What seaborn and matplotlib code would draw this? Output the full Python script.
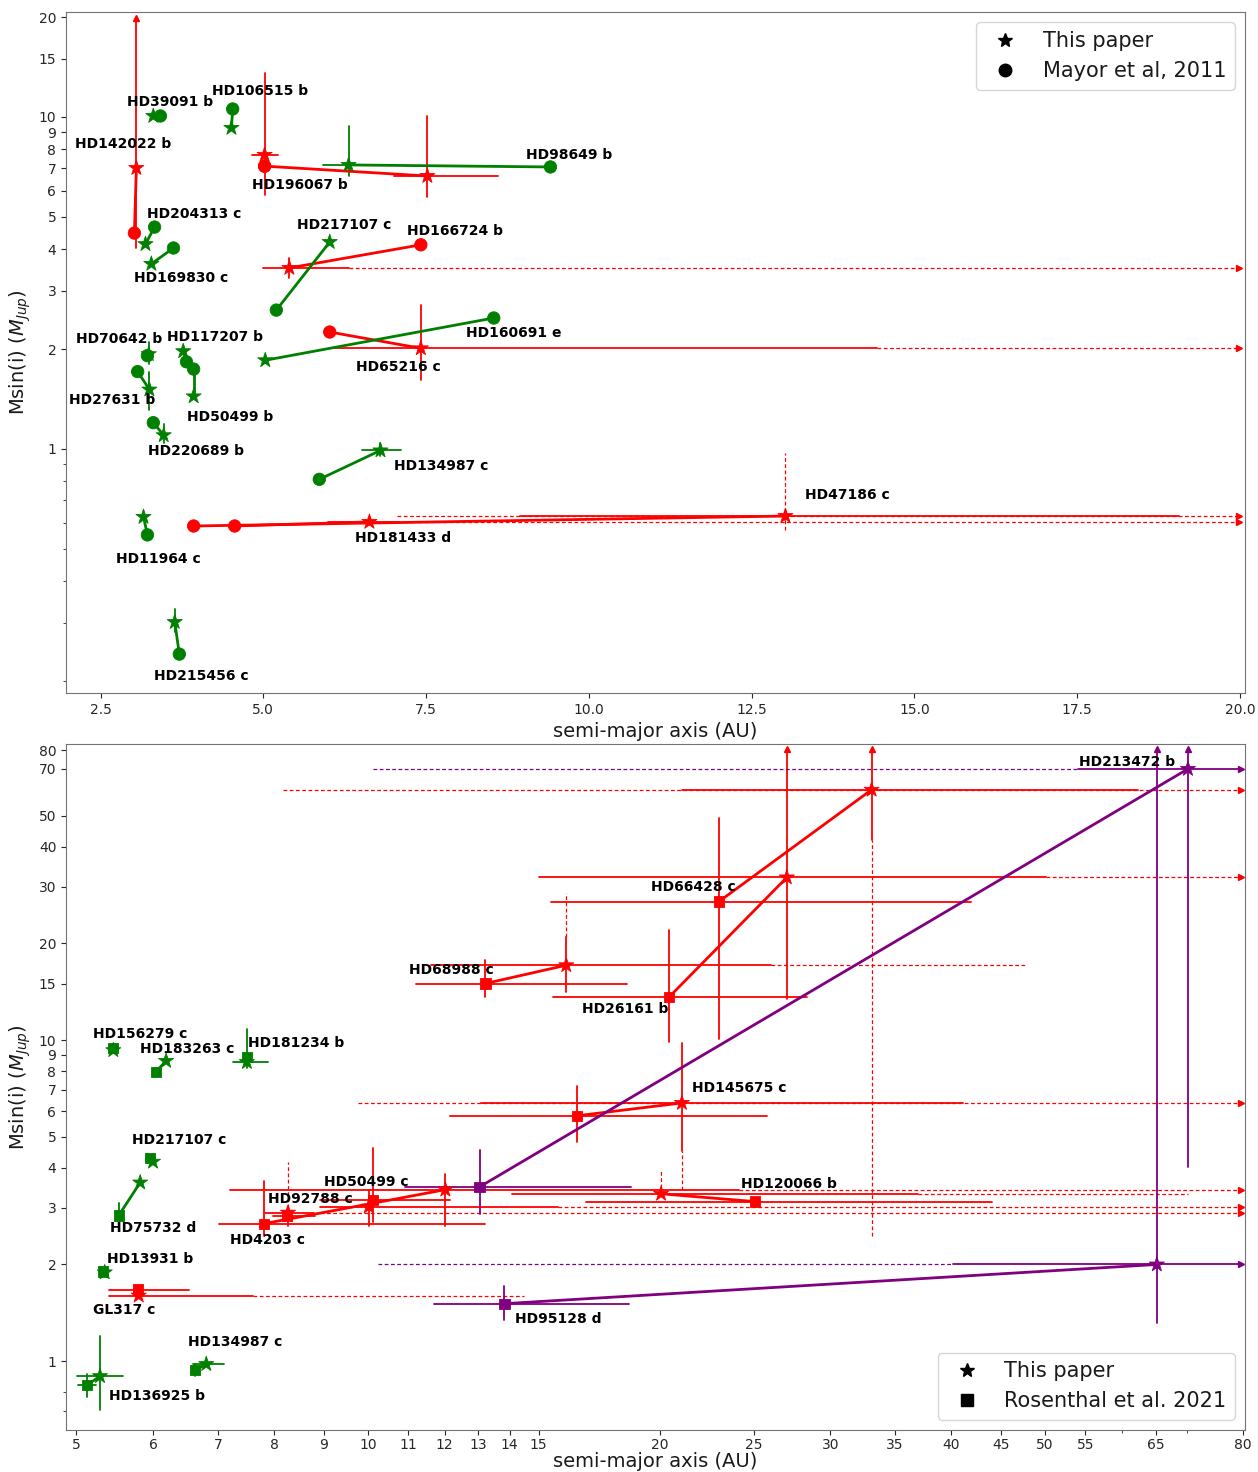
import numpy as np
import pandas as pd
import matplotlib
matplotlib.use("Agg")
import matplotlib.pyplot as plt
from matplotlib.lines import Line2D
from matplotlib.ticker import FixedLocator, FixedFormatter, NullFormatter
import seaborn as sns

nan, inf = np.nan, np.inf

# ---- Top panel: this paper vs Mayor et al, 2011 ----
top_names = ["HD142022 b", "HD39091 b", "HD106515 b", "HD196067 b", "", "HD98649 b",
             "HD204313 c", "HD169830 c", "HD217107 c", "HD166724 b", "HD160691 e",
             "HD65216 c", "HD70642 b", "HD27631 b", "HD117207 b", "HD50499 b",
             "HD220689 b", "HD134987 c", "HD47186 c", "HD181433 d", "HD11964 c", "HD215456 c"]
top_group = ["r", "g", "g", "r", "r", "g", "g", "g", "g", "r", "g",
             "r", "g", "g", "g", "g", "g", "g", "r", "r", "g", "g"]
top_lit_a = [3.02, 3.42, 4.53, 5.02, 5.02, 9.41, 3.33, 3.62, 5.20, 7.42, 8.54,
             6.02, 3.22, 3.07, 3.82, 3.93, 3.31, 5.86, 3.93, 4.56, 3.22, 3.71]
top_lit_m = [4.47, 10.07, 10.57, 7.11, 7.11, 7.07, 4.66, 4.03, 2.62, 4.12, 2.48,
             2.25, 1.91, 1.71, 1.83, 1.74, 1.20, 0.81, 0.586, 0.586, 0.551, 0.241]
top_a = [3.05, 3.31, 4.51, 5.02, 7.52, 6.31, 3.19, 3.28, 6.02, 5.40, 5.03,
         7.42, 3.24, 3.25, 3.77, 3.93, 3.47, 6.80, 13.02, 6.63, 3.16, 3.64]
top_m = [7.02, 10.07, 9.27, 7.69, 6.64, 7.17, 4.14, 3.61, 4.20, 3.51, 1.85,
         2.01, 1.93, 1.51, 1.97, 1.44, 1.10, 0.99, 0.628, 0.603, 0.624, 0.301]
# error ranges of this paper's values (inf = open upper limit)
top_a_lo = [nan, nan, nan, 4.82, 7.00, 5.91, nan, nan, nan, 5.00, nan,
            6.04, nan, nan, nan, nan, nan, 6.52, 8.94, 6.00, nan, nan]
top_a_hi = [nan, nan, nan, 5.22, 8.60, 6.70, nan, nan, nan, 6.31, nan,
            14.43, nan, nan, nan, nan, nan, 7.11, 19.06, 7.08, nan, nan]
top_a_dlo = [nan, nan, nan, nan, nan, nan, nan, nan, nan, 6.31, nan,
             14.43, nan, nan, nan, nan, nan, nan, 7.06, 7.08, nan, nan]
top_a_dhi = [nan, nan, nan, nan, nan, nan, nan, nan, nan, inf, nan,
             inf, nan, nan, nan, nan, nan, nan, inf, inf, nan, nan]
top_m_lo = [4.03, nan, nan, 5.82, 5.74, 6.64, nan, nan, nan, 3.27, nan,
            1.61, 1.80, 1.31, nan, nan, 1.04, 0.95, 0.61, 0.59, nan, 0.28]
top_m_hi = [inf, nan, nan, 13.6, 10.1, 9.37, nan, nan, nan, 3.76, nan,
            2.71, 2.10, 1.70, nan, nan, 1.19, 1.04, 0.645, 0.615, nan, 0.33]
top_m_dlo = [nan] * 18 + [0.57, nan, nan, nan]
top_m_dhi = [nan] * 18 + [0.97, nan, nan, nan]
top_label_off = [(-61, 24), (-26, 14), (-19, 37), (-13, -30), (0, 0), (177, 10),
                 (2, 30), (-17, -14), (-33, 17), (118, 37), (201, 27),
                 (-65, -19), (-73, 15), (-80, -10), (-16, 14), (-7, -21),
                 (-16, -16), (14, -16), (20, 21), (-14, -16), (-28, -42), (-21, -54)]
top_xticks = [2.5, 5.0, 7.5, 10.0, 12.5, 15.0, 17.5, 20.0]
top_yticks = [1, 2, 3, 4, 5, 6, 7, 8, 9, 10, 15, 20]
top_yminor = [0.2, 0.3, 0.4, 0.5, 0.6, 0.7, 0.8, 0.9]

# ---- Bottom panel: this paper vs Rosenthal et al. 2021 ----
bot_names = ["HD156279 c", "HD183263 c", "HD181234 b", "HD217107 c", "HD75732 d",
             "HD13931 b", "HD134987 c", "HD136925 b", "GL317 c", "HD4203 c",
             "HD92788 c", "HD50499 c", "HD120066 b", "HD145675 c", "HD68988 c",
             "HD26161 b", "HD66428 c", "HD213472 b", "HD95128 d"]
bot_group = ["g"] * 8 + ["r"] * 9 + ["p"] * 2
bot_lit_a = [5.46, 6.04, 7.50, 5.96, 5.53, 5.33, 6.63, 5.13, 5.79, 7.81,
             8.25, 10.12, 25.08, 16.44, 13.22, 20.45, 23.03, 13.04, 13.83]
bot_lit_m = [9.44, 7.96, 8.85, 4.30, 2.84, 1.90, 0.938, 0.842, 1.67, 2.68,
             2.84, 3.18, 3.14, 5.81, 15.0, 13.6, 27.0, 3.49, 1.51]
bot_lit_a_lo = [nan] * 7 + [5.02, 5.41, 7.02, 7.98, 8.92, 16.80, 12.14, 11.22, 15.53, 15.46, 10.91, 11.71]
bot_lit_a_hi = [nan] * 7 + [5.24, 6.54, 13.22, 8.81, 12.14, 44.10, 25.80, 18.52, 28.37, 41.95, 18.69, 18.60]
bot_lit_m_lo = [nan, nan, nan, nan, 2.74, nan, 0.90, 0.773, nan, 2.46,
                nan, 2.72, nan, 4.82, 13.6, 9.86, 10.07, 2.88, 1.34]
bot_lit_m_hi = [nan, nan, nan, nan, 3.10, nan, 0.98, 0.911, nan, 3.65,
                nan, 4.62, nan, 7.20, 17.8, 22.0, 49.3, 4.55, 1.72]
bot_a = [5.46, 6.19, 7.50, 6.00, 5.82, 5.35, 6.81, 5.29, 5.80, 12.02,
         8.27, 10.02, 20.07, 21.09, 16.02, 27.06, 33.10, 70.2, 65.2]
bot_m = [9.30, 8.61, 8.54, 4.18, 3.60, 1.89, 0.979, 0.898, 1.60, 3.42,
         2.90, 3.03, 3.32, 6.37, 17.1, 32.1, 60.2, 69.9, 2.00]
bot_a_lo = [nan, nan, 7.25, nan, nan, nan, 6.60, 5.01, 5.41, 7.21,
            7.83, 8.92, 14.09, 13.07, 11.63, 15.03, 21.09, 54.0, 40.2]
bot_a_hi = [nan, nan, 7.88, nan, nan, nan, 7.10, 5.59, 7.61, 24.15,
            8.79, 15.71, 36.99, 41.16, 26.05, 50.1, 62.3, inf, inf]
bot_a_dlo = [nan] * 8 + [7.61, 24.15, 8.79, 15.71, 36.99, 9.76, 26.05, 50.1, 8.17, 10.12, 10.23]
bot_a_dhi = [nan] * 8 + [14.5, inf, inf, inf, 70.2, inf, 47.8, inf, inf, 54.0, 40.2]
bot_m_lo = [nan, nan, 8.2, nan, nan, nan, nan, 0.705, nan, 2.63,
            2.63, 2.63, nan, 4.52, 14.1, 13.4, 42.1, 4.03, 1.31]
bot_m_hi = [nan, nan, 10.8, nan, nan, nan, nan, 1.20, nan, 3.84,
            2.99, 3.40, nan, 9.79, 21.0, inf, inf, inf, inf]
bot_m_dlo = [nan] * 10 + [2.99, nan, 3.32, 3.42, 21.0, nan, 2.46, nan, nan]
bot_m_dhi = [nan] * 10 + [4.18, nan, 3.92, 4.52, 28.8, nan, 42.1, nan, nan]
bot_label_off = [(-20, 16), (-26, 12), (1, 19), (-21, 22), (-30, -45), (2, 13),
                 (-18, 22), (9, -20), (-46, -14), (-215, -50), (-20, 14), (-45, 25),
                 (80, 10), (10, 15), (-157, -5), (-205, -132), (-221, -97),
                 (-109, 7), (-642, -55)]
bot_xticks = [5, 6, 7, 8, 9, 10, 11, 12, 13, 14, 15, 20, 25, 30, 35, 40, 45, 50, 55, 65, 80]
bot_xminor = [60, 70]
bot_yticks = [1, 2, 3, 4, 5, 6, 7, 8, 9, 10, 15, 20, 30, 40, 50, 70, 80]
bot_yminor = [0.7, 0.8]

palette = {"g": "green", "r": "red", "p": "purple"}

sns.set_style("ticks", {"axes.edgecolor": "0.45", "xtick.color": "0.15",
                        "ytick.color": "0.15", "text.color": "0.1",
                        "axes.labelcolor": "0.1"})
plt.rcParams["font.family"] = ["DejaVu Sans"]


def seg(ax, pos, lo, hi, color, horizontal, dashed, edge):
    if np.isnan(lo) or np.isnan(hi):
        return
    arrow = np.isinf(hi)
    end = edge if arrow else hi
    kw = dict(color=color, lw=0.9 if dashed else 1.3,
              ls=(0, (3, 2)) if dashed else "-", zorder=1)
    if horizontal:
        ax.plot([lo, end], [pos, pos], **kw)
        if arrow:
            ax.plot([end], [pos], marker=">", ms=4.5, color=color, ls="none", zorder=1)
    else:
        ax.plot([pos, pos], [lo, end], **kw)
        if arrow:
            ax.plot([pos], [end], marker="^", ms=4.5, color=color, ls="none", zorder=1)


def draw_panel(ax, d, lit_marker, lit_size, edges, offsets):
    n = len(d["names"])
    xe, ye = edges
    # error bars (this paper), dashed extensions first
    for i in range(n):
        c = palette[d["group"][i]]
        seg(ax, d["m"][i], d["a_dlo"][i], d["a_dhi"][i], c, True, True, xe)
        seg(ax, d["a"][i], d["m_dlo"][i], d["m_dhi"][i], c, False, True, ye)
        seg(ax, d["m"][i], d["a_lo"][i], d["a_hi"][i], c, True, False, xe)
        seg(ax, d["a"][i], d["m_lo"][i], d["m_hi"][i], c, False, False, ye)
        if "lit_a_lo" in d:
            seg(ax, d["lit_m"][i], d["lit_a_lo"][i], d["lit_a_hi"][i], c, True, False, xe)
            seg(ax, d["lit_a"][i], d["lit_m_lo"][i], d["lit_m_hi"][i], c, False, False, ye)

    lit = pd.DataFrame({"pair": range(n), "a": d["lit_a"], "m": d["lit_m"],
                        "group": d["group"], "source": "lit"})
    ours = pd.DataFrame({"pair": range(n), "a": d["a"], "m": d["m"],
                         "group": d["group"], "source": "ours"})
    pts = pd.concat([lit, ours], ignore_index=True)

    sns.lineplot(data=pts, x="a", y="m", units="pair", estimator=None, sort=False,
                 hue="group", palette=palette, lw=2, legend=False, ax=ax, zorder=2)
    sns.scatterplot(data=pts, x="a", y="m", hue="group", palette=palette,
                    style="source", markers={"lit": lit_marker, "ours": "*"},
                    size="source", sizes={"lit": lit_size, "ours": 130},
                    edgecolor="face", linewidth=0.6, legend=False, ax=ax, zorder=3)

    for i in range(n):
        if d["names"][i]:
            ax.annotate(d["names"][i], (d["a"][i], d["m"][i]), xytext=offsets[i],
                        textcoords="offset pixels", fontsize=10, fontweight="bold",
                        color="black", ha="left", va="center", zorder=4)


fig = plt.figure(figsize=(12.58, 14.72), dpi=100)
ax1 = fig.add_axes([0.0525, 0.5292, 0.9372, 0.4626])
ax2 = fig.add_axes([0.0525, 0.0285, 0.9372, 0.4661])

# top panel
ax1.set_yscale("log")
ax1.set_xlim(1.97, 20.08)
ax1.set_ylim(0.184, 20.7)
top = dict(names=top_names, group=top_group, lit_a=top_lit_a, lit_m=top_lit_m,
           a=top_a, m=top_m, a_lo=top_a_lo, a_hi=top_a_hi, a_dlo=top_a_dlo,
           a_dhi=top_a_dhi, m_lo=top_m_lo, m_hi=top_m_hi, m_dlo=top_m_dlo, m_dhi=top_m_dhi)
draw_panel(ax1, top, "o", 80, (19.98, 19.9), top_label_off)
ax1.set_xlim(1.97, 20.08)
ax1.set_ylim(0.184, 20.7)
ax1.set_xticks(top_xticks)
ax1.set_xticklabels([f"{t:.1f}" for t in top_xticks])
ax1.yaxis.set_major_locator(FixedLocator(top_yticks))
ax1.yaxis.set_major_formatter(FixedFormatter([str(t) for t in top_yticks]))
ax1.yaxis.set_minor_locator(FixedLocator(top_yminor))
ax1.yaxis.set_minor_formatter(NullFormatter())
ax1.tick_params(labelsize=10)
ax1.set_xlabel("semi-major axis (AU)", fontsize=14)
ax1.set_ylabel(r"Msin(i) ($M_{Jup}$)", fontsize=14)
ax1.legend(handles=[Line2D([], [], marker="*", color="k", ls="none", ms=10),
                    Line2D([], [], marker="o", color="k", ls="none", ms=9)],
           labels=["This paper", "Mayor et al, 2011"], loc="upper right", fontsize=15)

# bottom panel
ax2.set_xscale("log")
ax2.set_yscale("log")
ax2.set_xlim(4.88, 80.4)
ax2.set_ylim(0.61, 83.6)
bot = dict(names=bot_names, group=bot_group, lit_a=bot_lit_a, lit_m=bot_lit_m,
           a=bot_a, m=bot_m, a_lo=bot_a_lo, a_hi=bot_a_hi, a_dlo=bot_a_dlo,
           a_dhi=bot_a_dhi, m_lo=bot_m_lo, m_hi=bot_m_hi, m_dlo=bot_m_dlo, m_dhi=bot_m_dhi,
           lit_a_lo=bot_lit_a_lo, lit_a_hi=bot_lit_a_hi,
           lit_m_lo=bot_lit_m_lo, lit_m_hi=bot_lit_m_hi)
draw_panel(ax2, bot, "s", 55, (79.6, 80.5), bot_label_off)
ax2.set_xlim(4.88, 80.4)
ax2.set_ylim(0.61, 83.6)
ax2.xaxis.set_major_locator(FixedLocator(bot_xticks))
ax2.xaxis.set_major_formatter(FixedFormatter([str(t) for t in bot_xticks]))
ax2.xaxis.set_minor_locator(FixedLocator(bot_xminor))
ax2.xaxis.set_minor_formatter(NullFormatter())
ax2.yaxis.set_major_locator(FixedLocator(bot_yticks))
ax2.yaxis.set_major_formatter(FixedFormatter([str(t) for t in bot_yticks]))
ax2.yaxis.set_minor_locator(FixedLocator(bot_yminor))
ax2.yaxis.set_minor_formatter(NullFormatter())
ax2.tick_params(labelsize=10)
ax2.tick_params(axis="x", pad=2)
ax2.set_xlabel("semi-major axis (AU)", fontsize=14, labelpad=0)
ax2.set_ylabel(r"Msin(i) ($M_{Jup}$)", fontsize=14)
ax2.legend(handles=[Line2D([], [], marker="*", color="k", ls="none", ms=10),
                    Line2D([], [], marker="s", color="k", ls="none", ms=8)],
           labels=["This paper", "Rosenthal et al. 2021"], loc="lower right", fontsize=15)

fig.savefig("out.png", dpi=100)
